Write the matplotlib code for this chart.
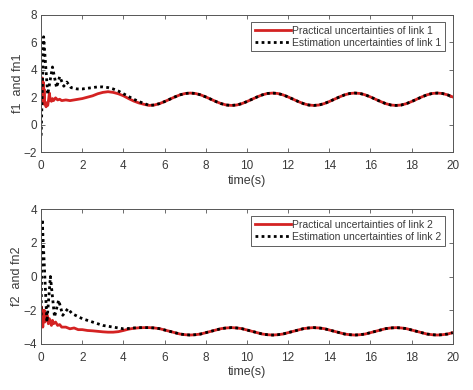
import matplotlib
matplotlib.use('Agg')
import matplotlib.pyplot as plt

# --- Data ---
# link 1, transient part
t1_red = [0, 0.02, 0.04, 0.06, 0.08, 0.10, 0.12, 0.14, 0.17, 0.20, 0.24, 0.28, 0.32, 0.36,
          0.40, 0.44, 0.50, 0.55, 0.60, 0.70, 0.80, 0.90, 1.0, 1.2, 1.4, 1.6, 1.8, 2.0, 2.25,
          2.5, 2.75, 3.0, 3.25, 3.5, 3.75, 4.0, 4.25, 4.5, 4.75, 5.0]
f1_red = [2.0, 3.3, 1.6, 3.4, 1.8, 3.1, 1.5, 2.6, 1.6, 1.5, 1.3, 1.6, 1.4, 1.8,
          2.3, 1.8, 1.7, 1.9, 1.75, 1.95, 1.8, 1.85, 1.75, 1.8, 1.75, 1.8, 1.85, 1.9, 2.0,
          2.1, 2.25, 2.35, 2.4, 2.35, 2.25, 2.1, 1.9, 1.72, 1.58, 1.48]
t1_blk = [0, 0.12, 0.32, 0.55, 0.75, 0.9, 1.1, 1.25, 1.45, 1.75, 2.0, 2.25, 2.5, 2.75, 3.0,
          3.25, 3.5, 3.75, 4.0, 4.25, 4.5, 4.75, 5.0]
fn1_blk = [-0.8, 6.4, 2.2, 4.2, 2.7, 3.5, 2.8, 3.1, 2.7, 2.6, 2.6, 2.65, 2.7, 2.75, 2.75,
           2.7, 2.6, 2.45, 2.25, 2.05, 1.85, 1.68, 1.55]

# link 2, transient part
t2_red = [0, 0.02, 0.04, 0.06, 0.08, 0.10, 0.12, 0.15, 0.18, 0.22, 0.26, 0.30, 0.35, 0.40,
          0.45, 0.50, 0.55, 0.60, 0.70, 0.80, 0.90, 1.0, 1.2, 1.4, 1.6, 1.8, 2.0, 2.25, 2.5,
          2.75, 3.0, 3.25, 3.5, 3.75, 4.0, 4.25, 4.5, 4.75, 5.0]
f2_red = [-2.4, -1.8, -2.9, -2.0, -3.0, -2.2, -2.6, -2.0, -2.7, -2.5, -2.2, -2.3, -2.8, -2.5,
          -2.7, -2.9, -2.6, -2.8, -2.7, -2.9, -2.85, -3.0, -3.0, -3.1, -3.05, -3.15, -3.15, -3.2, -3.22,
          -3.25, -3.28, -3.3, -3.3, -3.27, -3.2, -3.12, -3.07, -3.04, -3.03]
t2_blk = [0, 0.05, 0.28, 0.45, 0.65, 0.85, 1.05, 1.3, 1.5, 1.75, 2.0, 2.25, 2.5, 2.75, 3.0,
          3.25, 3.5, 3.75, 4.0, 4.25, 4.5, 4.75, 5.0]
fn2_blk = [-2.3, 3.4, -2.7, 0.0, -2.4, -1.4, -2.3, -1.9, -2.2, -2.35, -2.5, -2.6, -2.7, -2.8,
           -2.9, -2.95, -3.0, -3.05, -3.1, -3.08, -3.05, -3.03, -3.03]

# steady oscillation, both curves overlap (5.25 s .. 20 s, 0.25 s step)
t_late = [5.25, 5.5, 5.75, 6.0, 6.25, 6.5, 6.75, 7.0, 7.25, 7.5, 7.75, 8.0, 8.25, 8.5, 8.75, 9.0,
          9.25, 9.5, 9.75, 10.0, 10.25, 10.5, 10.75, 11.0, 11.25, 11.5, 11.75, 12.0, 12.25, 12.5,
          12.75, 13.0, 13.25, 13.5, 13.75, 14.0, 14.25, 14.5, 14.75, 15.0, 15.25, 15.5, 15.75,
          16.0, 16.25, 16.5, 16.75, 17.0, 17.25, 17.5, 17.75, 18.0, 18.25, 18.5, 18.75, 19.0,
          19.25, 19.5, 19.75, 20.0]
f1_late = [1.40, 1.43, 1.53, 1.68, 1.85, 2.02, 2.17, 2.27, 2.30, 2.27, 2.17, 2.02, 1.85, 1.68, 1.53, 1.43,
           1.40, 1.43, 1.53, 1.68, 1.85, 2.02, 2.17, 2.27, 2.30, 2.27, 2.17, 2.02, 1.85, 1.68, 1.53, 1.43,
           1.40, 1.43, 1.53, 1.68, 1.85, 2.02, 2.17, 2.27, 2.30, 2.27, 2.17, 2.02, 1.85, 1.68, 1.53, 1.43,
           1.40, 1.43, 1.53, 1.68, 1.85, 2.02, 2.17, 2.27, 2.30, 2.27, 2.17, 2.02]
f2_late = [-3.03, -3.05, -3.09, -3.17, -3.25, -3.33, -3.41, -3.45, -3.47, -3.45, -3.41, -3.33, -3.25, -3.17, -3.09, -3.05,
           -3.03, -3.05, -3.09, -3.17, -3.25, -3.33, -3.41, -3.45, -3.47, -3.45, -3.41, -3.33, -3.25, -3.17, -3.09, -3.05,
           -3.03, -3.05, -3.09, -3.17, -3.25, -3.33, -3.41, -3.45, -3.47, -3.45, -3.41, -3.33, -3.25, -3.17, -3.09, -3.05,
           -3.03, -3.05, -3.09, -3.17, -3.25, -3.33, -3.41, -3.45, -3.47, -3.45, -3.41, -3.33]

RED = '#d42222'
AX_COLOR = '#555555'
TXT = '#3a3a3a'

plt.rcParams['font.family'] = ['Liberation Sans', 'DejaVu Sans']

fig = plt.figure(figsize=(4.73, 3.90), dpi=100, facecolor='white')
ax1 = fig.add_axes([0.087, 0.610, 0.870, 0.352])
ax2 = fig.add_axes([0.087, 0.118, 0.870, 0.346])

panels = [
    (ax1, t1_red, f1_red, t1_blk, fn1_blk, f1_late, (-2, 8), 'f1  and fn1', '1'),
    (ax2, t2_red, f2_red, t2_blk, fn2_blk, f2_late, (-4, 4), 'f2  and fn2', '2'),
]

for ax, tr, fr, tb, fb, late, ylim, ylab, k in panels:
    ax.plot(tr + t_late, fr + late, color=RED, lw=2.0,
            label=f'Practical uncertainties of link {k}')
    ax.plot(tb + t_late, fb + late, color='black', lw=2.0, linestyle=(0, (1, 1.2)),
            label=f'Estimation uncertainties of link {k}')
    ax.set_xlim(0, 20)
    ax.set_ylim(*ylim)
    ax.set_xticks(range(0, 21, 2))
    ax.set_yticks(range(ylim[0], ylim[1] + 1, 2))
    ax.tick_params(direction='in', length=3, width=0.6, labelsize=8.5, colors=AX_COLOR,
                   labelcolor=TXT, top=True, right=True)
    ax.tick_params(axis='x', pad=5.5)
    ax.tick_params(axis='y', pad=3)
    for sp in ax.spines.values():
        sp.set_color(AX_COLOR)
        sp.set_linewidth(0.7)
    ax.set_xlabel('time(s)', fontsize=9, color=TXT, labelpad=2)
    ax.set_ylabel(ylab, fontsize=9, color=TXT, labelpad=0)
    leg = ax.legend(loc='upper right', fontsize=7.5, handlelength=3.5, handletextpad=0.1,
                    borderaxespad=0.7, borderpad=0.35, labelspacing=0.2,
                    fancybox=False, framealpha=1, edgecolor='#444444')
    leg.get_frame().set_linewidth(0.6)
    for txt in leg.get_texts():
        txt.set_color(TXT)

fig.savefig('out.png', dpi=100, facecolor='white')
